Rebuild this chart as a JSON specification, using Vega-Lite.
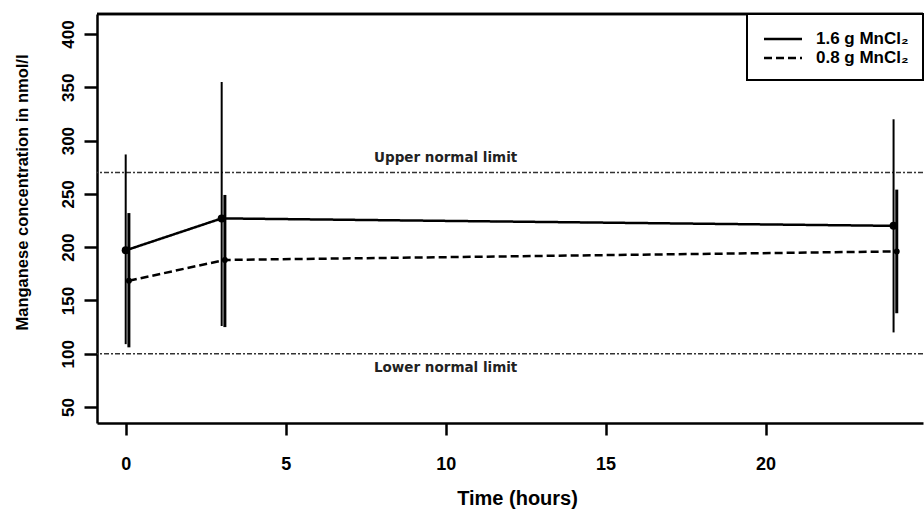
{
  "$schema": "https://vega.github.io/schema/vega-lite/v6.json",
  "width": 826,
  "height": 409,
  "autosize": {"type": "none"},
  "padding": {"left": 97, "top": 14, "right": 1, "bottom": 90},
  "background": "white",
  "config": {
    "view": {"stroke": null},
    "font": "Liberation Sans",
    "axis": {"grid": false, "domainColor": "black", "tickColor": "black", "labelColor": "black", "titleColor": "black", "labelFont": "Liberation Sans", "titleFont": "Liberation Sans", "labelFontWeight": "bold", "titleFontWeight": "bold"}
  },
  "datasets": {
    "series": [
      {"time": 0, "dose": "1.6 g MnCl₂", "mean": 197, "lo": 109, "hi": 287},
      {"time": 3, "dose": "1.6 g MnCl₂", "mean": 227, "lo": 126, "hi": 355},
      {"time": 24, "dose": "1.6 g MnCl₂", "mean": 220, "lo": 120, "hi": 320},
      {"time": 0.1, "dose": "0.8 g MnCl₂", "mean": 168.5, "lo": 106, "hi": 232},
      {"time": 3.1, "dose": "0.8 g MnCl₂", "mean": 188, "lo": 125, "hi": 249},
      {"time": 24.1, "dose": "0.8 g MnCl₂", "mean": 196, "lo": 138, "hi": 254}
    ],
    "limits": [
      {"limit": "Upper normal limit", "value": 270, "time": 10},
      {"limit": "Lower normal limit", "value": 100, "time": 10}
    ]
  },
  "layer": [
    {
      "data": {"name": "limits"},
      "mark": {"type": "rule", "color": "#333", "strokeWidth": 1.5, "strokeDash": [5, 2, 2, 2]},
      "encoding": {
        "y": {"field": "value", "type": "quantitative", "scale": {"domain": [35, 418.8], "nice": false, "zero": false},
          "axis": {"values": [50, 100, 150, 200, 250, 300, 350, 400], "title": "Manganese concentration in nmol/l", "titleFontSize": 16.5, "titlePadding": 29, "titleY": 178, "labelFontSize": 17, "labelAngle": 270, "labelAlign": "center", "labelBaseline": "bottom", "labelPadding": 7, "tickSize": 13, "tickWidth": 2.5, "domainWidth": 2.5}}
      }
    },
    {
      "data": {"name": "limits"},
      "mark": {"type": "rule", "color": "black", "strokeWidth": 2.5},
      "encoding": {
        "y": {"datum": 418.8, "type": "quantitative"}
      }
    },
    {
      "data": {"name": "limits"},
      "transform": [{"filter": "datum.value > 200"}],
      "mark": {"type": "text", "font": "DejaVu Sans", "fontWeight": "bold", "fontSize": 13.5, "color": "#222", "dy": -15},
      "encoding": {
        "x": {"field": "time", "type": "quantitative"},
        "y": {"field": "value", "type": "quantitative"},
        "text": {"field": "limit"}
      }
    },
    {
      "data": {"name": "limits"},
      "transform": [{"filter": "datum.value < 200"}],
      "mark": {"type": "text", "font": "DejaVu Sans", "fontWeight": "bold", "fontSize": 13.5, "color": "#222", "dy": 14},
      "encoding": {
        "x": {"field": "time", "type": "quantitative"},
        "y": {"field": "value", "type": "quantitative"},
        "text": {"field": "limit"}
      }
    },
    {
      "data": {"name": "series"},
      "transform": [{"filter": "datum.time == 0 || datum.time == 3 || datum.time == 24"}],
      "mark": {"type": "rule", "color": "black", "strokeWidth": 2},
      "encoding": {
        "x": {"field": "time", "type": "quantitative"},
        "y": {"field": "lo", "type": "quantitative"},
        "y2": {"field": "hi"}
      }
    },
    {
      "data": {"name": "series"},
      "transform": [{"filter": "datum.time != 0 && datum.time != 3 && datum.time != 24"}],
      "mark": {"type": "rule", "color": "black", "strokeWidth": 3},
      "encoding": {
        "x": {"field": "time", "type": "quantitative"},
        "y": {"field": "lo", "type": "quantitative"},
        "y2": {"field": "hi"}
      }
    },
    {
      "data": {"name": "series"},
      "mark": {"type": "line", "color": "black", "strokeWidth": 2.5},
      "encoding": {
        "x": {"field": "time", "type": "quantitative", "scale": {"domain": [-0.897, 24.92], "nice": false, "zero": false},
          "axis": {"values": [0, 5, 10, 15, 20], "title": "Time (hours)", "titleFontSize": 20, "titlePadding": 15, "titleX": 420, "labelFontSize": 18, "labelPadding": 20, "tickSize": 12, "tickWidth": 2.5, "domainWidth": 2.5}},
        "y": {"field": "mean", "type": "quantitative"},
        "strokeDash": {"field": "dose", "type": "nominal",
          "scale": {"domain": ["1.6 g MnCl₂", "0.8 g MnCl₂"], "range": [[1, 0], [8, 4]]},
          "legend": {"title": null, "orient": "none", "legendX": 650, "legendY": 0, "strokeColor": "black", "fillColor": "white", "padding": 14, "labelFont": "Liberation Sans", "labelFontWeight": "bold", "labelFontSize": 17, "labelColor": "black", "symbolType": "M-2,0H2", "symbolSize": 361, "symbolStrokeWidth": 2.5, "symbolStrokeColor": "black", "symbolOffset": 11, "labelOffset": 22, "rowPadding": 0,
            "encode": {"legend": {"update": {"strokeWidth": {"value": 2}}}}}}
      }
    },
    {
      "data": {"name": "series"},
      "transform": [{"filter": "datum.time == 0 || datum.time == 3 || datum.time == 24"}],
      "mark": {"type": "circle", "color": "black", "opacity": 1, "size": 64},
      "encoding": {
        "x": {"field": "time", "type": "quantitative"},
        "y": {"field": "mean", "type": "quantitative"}
      }
    },
    {
      "data": {"name": "series"},
      "transform": [{"filter": "datum.time != 0 && datum.time != 3 && datum.time != 24"}],
      "mark": {"type": "circle", "color": "black", "opacity": 1, "size": 35},
      "encoding": {
        "x": {"field": "time", "type": "quantitative"},
        "y": {"field": "mean", "type": "quantitative"}
      }
    }
  ]
}
